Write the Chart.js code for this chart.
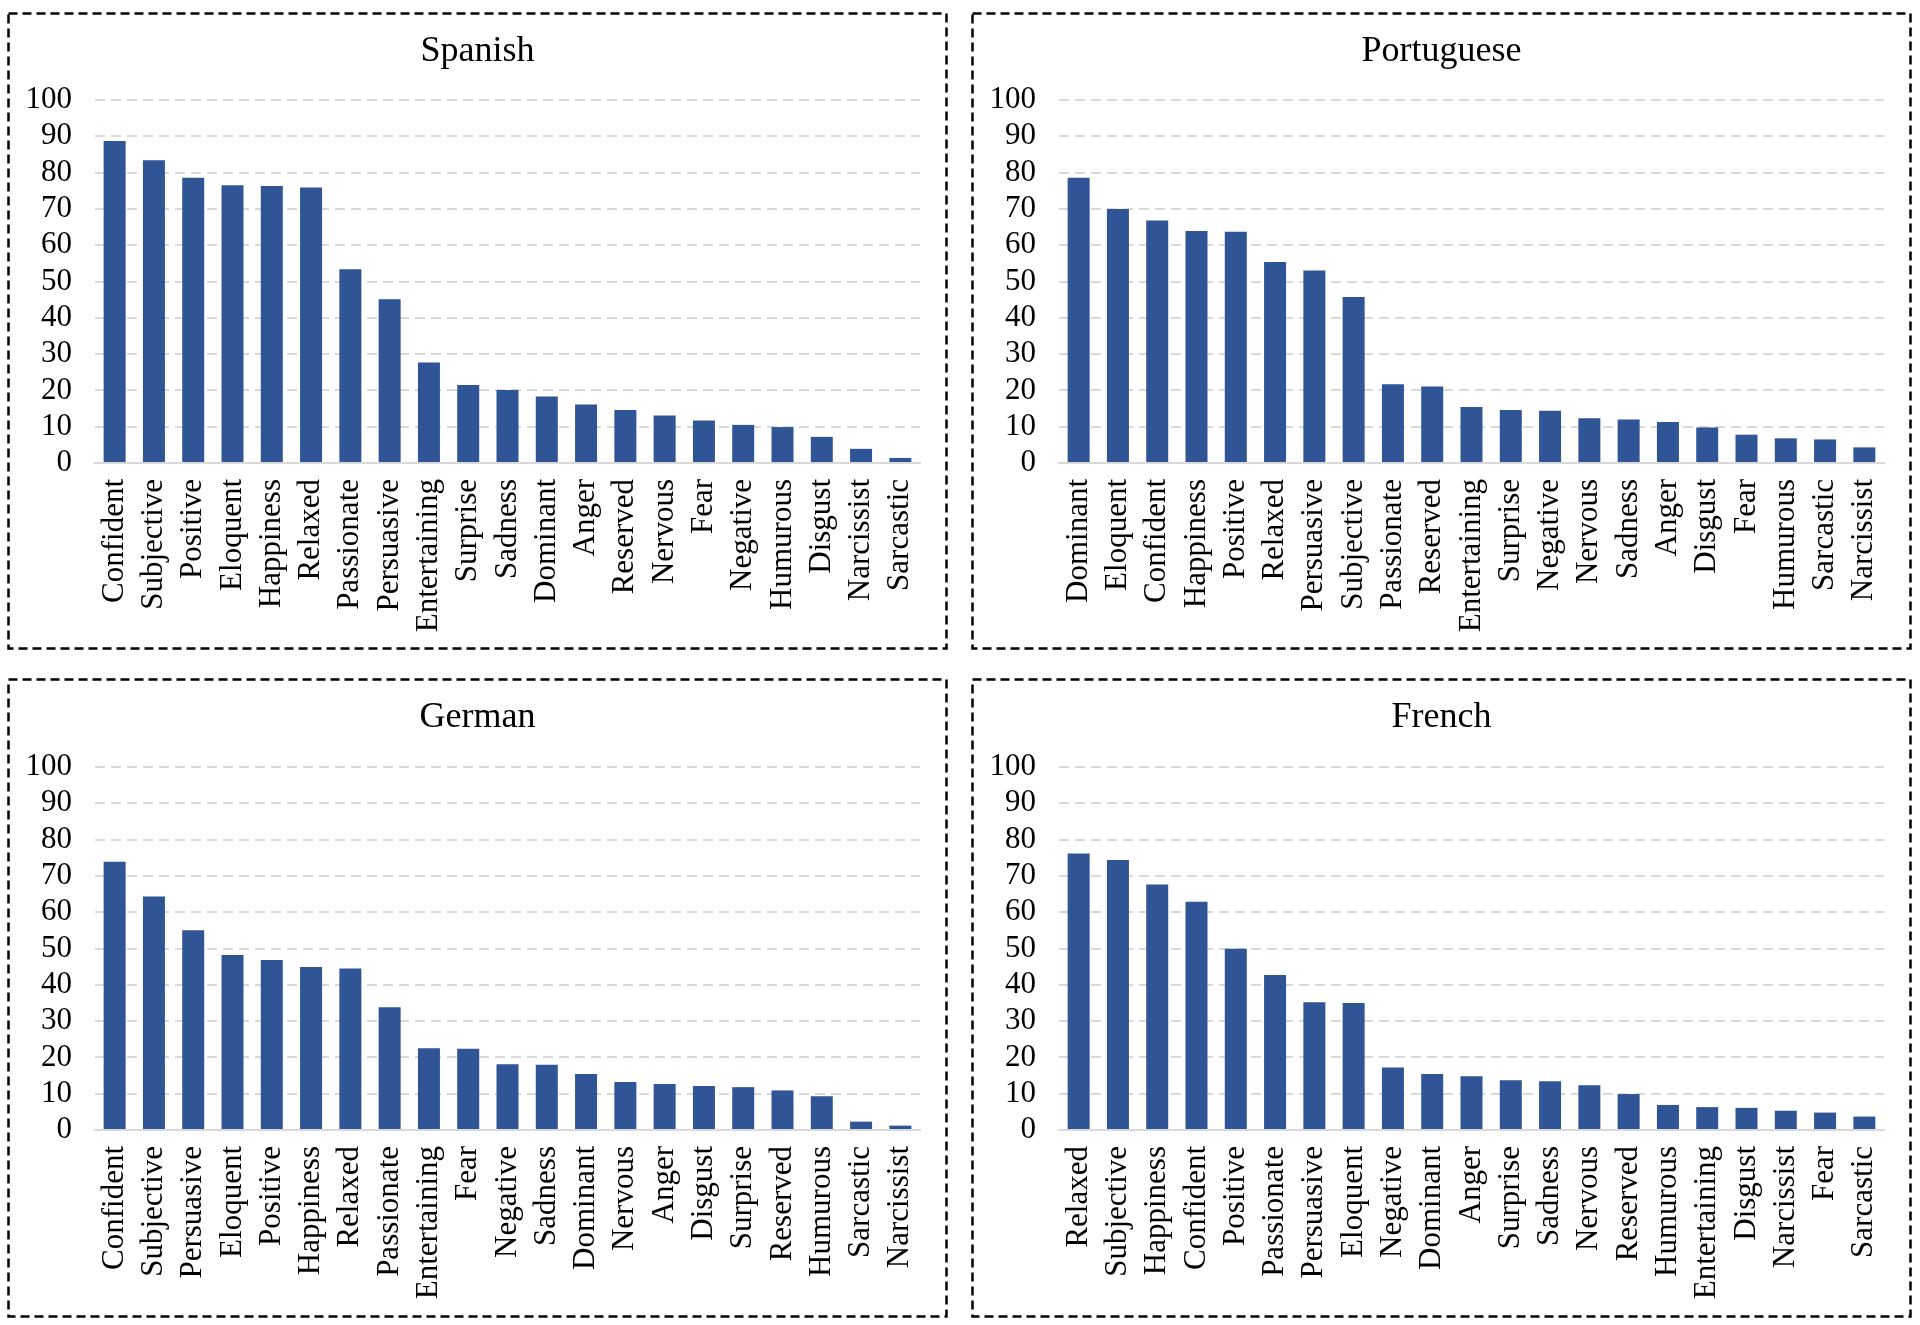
<!DOCTYPE html>
<html>
<head>
<meta charset="utf-8">
<title>Ranking per language</title>
<script src="https://cdn.jsdelivr.net/npm/chart.js@4/dist/chart.umd.min.js"></script>
<style>
    html, body { margin: 0; padding: 0; background: #fff; }
    body { width: 1920px; height: 1325px; position: relative; overflow: hidden; }
    .panel { position: absolute; }
    .panel canvas { display: block; }
</style>
</head>
<body>
<div class="panel" id="pSpanish"><canvas id="chartSpanish"></canvas></div>
<div class="panel" id="pPortuguese"><canvas id="chartPortuguese"></canvas></div>
<div class="panel" id="pGerman"><canvas id="chartGerman"></canvas></div>
<div class="panel" id="pFrench"><canvas id="chartFrench"></canvas></div>

<script>
// Donnees (en %)
const spanishLabels = ['Confident', 'Subjective', 'Positive', 'Eloquent', 'Happiness', 'Relaxed', 'Passionate',
    'Persuasive', 'Entertaining', 'Surprise', 'Sadness', 'Dominant', 'Anger', 'Reserved', 'Nervous', 'Fear',
    'Negative', 'Humurous', 'Disgust', 'Narcissist', 'Sarcastic'];
const spanishValues = [88.7, 83.4, 78.6, 76.5, 76.3, 75.9, 53.4, 45.1, 27.7, 21.5, 20.1, 18.3, 16.1, 14.6, 13.1,
    11.7, 10.5, 9.9, 7.2, 3.9, 1.4];

const portugueseLabels = ['Dominant', 'Eloquent', 'Confident', 'Happiness', 'Positive', 'Relaxed', 'Persuasive',
    'Subjective', 'Passionate', 'Reserved', 'Entertaining', 'Surprise', 'Negative', 'Nervous', 'Sadness', 'Anger',
    'Disgust', 'Fear', 'Humurous', 'Sarcastic', 'Narcissist'];
const portugueseValues = [78.6, 70.0, 66.8, 63.9, 63.7, 55.4, 53.0, 45.7, 21.7, 21.1, 15.4, 14.6, 14.4, 12.3, 12.0,
    11.3, 9.8, 7.8, 6.8, 6.5, 4.3];

const germanLabels = ['Confident', 'Subjective', 'Persuasive', 'Eloquent', 'Positive', 'Happiness', 'Relaxed',
    'Passionate', 'Entertaining', 'Fear', 'Negative', 'Sadness', 'Dominant', 'Nervous', 'Anger', 'Disgust',
    'Surprise', 'Reserved', 'Humurous', 'Sarcastic', 'Narcissist'];
const germanValues = [73.9, 64.3, 55.0, 48.2, 46.8, 44.9, 44.5, 33.8, 22.5, 22.4, 18.1, 18.0, 15.4, 13.2, 12.7,
    12.1, 11.8, 10.9, 9.3, 2.3, 1.2];

const frenchLabels = ['Relaxed', 'Subjective', 'Happiness', 'Confident', 'Positive', 'Passionate', 'Persuasive',
    'Eloquent', 'Negative', 'Dominant', 'Anger', 'Surprise', 'Sadness', 'Nervous', 'Reserved', 'Humurous',
    'Entertaining', 'Disgust', 'Narcissist', 'Fear', 'Sarcastic'];
const frenchValues = [76.2, 74.4, 67.6, 62.9, 49.9, 42.7, 35.2, 35.0, 17.2, 15.4, 14.8, 13.7, 13.4, 12.3, 9.9,
    6.9, 6.3, 6.1, 5.3, 4.8, 3.7];

const yTicks = [0, 10, 20, 30, 40, 50, 60, 70, 80, 90, 100];

const BAR_COLOR = '#2F5597';
const GRID_COLOR = '#d9d9d9';
const FONT_FAMILY = "'Liberation Serif', 'DejaVu Serif', 'Times New Roman', serif";

/**
 * Cadre pointille autour de chaque panneau
 */
const dashedFrame = {
    id: 'dashedFrame',
    afterDraw(chart) {
        const ctx = chart.ctx;
        ctx.save();
        ctx.strokeStyle = '#000';
        ctx.lineWidth = 2.5;
        ctx.setLineDash([9, 5]);
        ctx.strokeRect(1.5, 1.5, chart.width - 3, chart.height - 3);
        ctx.restore();
    }
};

function makePanel(id, canvasId, title, labels, values, box) {
    const wrap = document.getElementById(id);
    wrap.style.left = box.x + 'px';
    wrap.style.top = box.y + 'px';
    wrap.style.width = box.w + 'px';
    wrap.style.height = box.h + 'px';

    const canvas = document.getElementById(canvasId);
    canvas.width = box.w;
    canvas.height = box.h;

    // zone de trace relative au cadre
    const plotTop = box.plotTop, plotBottom = box.plotBottom, plotLeft = 88, rightGap = 28;
    const side = 14; // marge symetrique pour centrer le titre sur le cadre

    new Chart(canvas, {
        type: 'bar',
        data: {
            labels: labels,
            datasets: [{
                data: values,
                backgroundColor: BAR_COLOR,
                borderWidth: 0,
                barPercentage: 0.56,
                categoryPercentage: 1.0
            }]
        },
        options: {
            responsive: false,
            animation: false,
            devicePixelRatio: 1,
            layout: { padding: { top: 0, left: side, right: side, bottom: 0 } },
            plugins: {
                legend: { display: false },
                tooltip: { enabled: false },
                title: {
                    display: true,
                    text: title,
                    color: '#000',
                    font: { family: FONT_FAMILY, size: 36, weight: 'normal', lineHeight: 1.2 },
                    padding: { top: 18, bottom: plotTop - 18 - 43.2 }
                }
            },
            scales: {
                x: {
                    grid: { display: false },
                    border: { display: true, color: GRID_COLOR, width: 2 },
                    ticks: {
                        autoSkip: false,
                        maxRotation: 90,
                        minRotation: 90,
                        padding: 8,
                        color: '#000',
                        font: { family: FONT_FAMILY, size: 31 }
                    },
                    afterFit(scale) { scale.height = box.h - plotBottom; }
                },
                y: {
                    min: 0,
                    max: 100,
                    afterBuildTicks(scale) { scale.ticks = yTicks.map(v => ({ value: v })); },
                    grid: { color: GRID_COLOR, lineWidth: 2, drawTicks: false, borderDash: [10, 6] },
                    border: { display: false, dash: [10, 6] },
                    ticks: {
                        autoSkip: false,
                        padding: 23,
                        color: '#000',
                        font: { family: FONT_FAMILY, size: 31 }
                    },
                    afterFit(scale) { scale.width = plotLeft - side; }
                },
                // axe invisible a droite pour laisser l'espace avant le cadre
                yRight: {
                    position: 'right',
                    display: true,
                    grid: { display: false, drawTicks: false },
                    border: { display: false },
                    ticks: { display: false },
                    afterFit(scale) { scale.width = rightGap - side; }
                }
            }
        },
        plugins: [dashedFrame]
    });
}

document.addEventListener('DOMContentLoaded', function () {
    makePanel('pSpanish', 'chartSpanish', 'Spanish', spanishLabels, spanishValues,
        { x: 7, y: 12, w: 941, h: 638, plotTop: 88, plotBottom: 451 });
    makePanel('pPortuguese', 'chartPortuguese', 'Portuguese', portugueseLabels, portugueseValues,
        { x: 971, y: 12, w: 941, h: 638, plotTop: 88, plotBottom: 451 });
    makePanel('pGerman', 'chartGerman', 'German', germanLabels, germanValues,
        { x: 7, y: 678, w: 941, h: 640, plotTop: 89, plotBottom: 452 });
    makePanel('pFrench', 'chartFrench', 'French', frenchLabels, frenchValues,
        { x: 971, y: 678, w: 941, h: 640, plotTop: 89, plotBottom: 452 });
});
</script>
</body>
</html>
